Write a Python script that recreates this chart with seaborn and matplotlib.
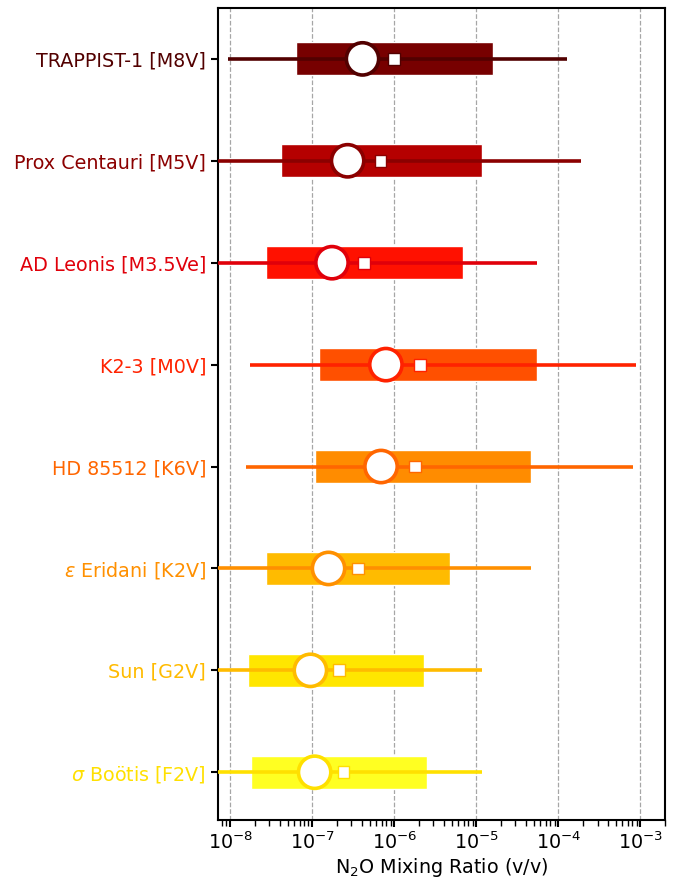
import numpy as np
import pandas as pd
import matplotlib
matplotlib.use("Agg")
import matplotlib.pyplot as plt
import seaborn as sns

# star names (top to bottom)
STARS = ["TRAPPIST-1 [M8V]", "Prox Centauri [M5V]", "AD Leonis [M3.5Ve]",
         "K2-3 [M0V]", "HD 85512 [K6V]", r"$\varepsilon$ Eridani [K2V]",
         "Sun [G2V]", r"$\sigma$ Boötis [F2V]"]

# N2O mixing ratio summary per star
LO95 = [9.5e-9, 4.0e-9, 3.0e-9, 1.74e-8, 1.58e-8, 3.0e-9, 3.0e-9, 3.0e-9]
Q_LO = [6.3e-8, 4.2e-8, 2.75e-8, 1.2e-7, 1.07e-7, 2.7e-8, 1.66e-8, 1.8e-8]
MEDIAN = [4.1e-7, 2.7e-7, 1.74e-7, 7.9e-7, 6.9e-7, 1.58e-7, 9.5e-8, 1.07e-7]
MEAN = [1.0e-6, 6.8e-7, 4.3e-7, 2.05e-6, 1.78e-6, 3.6e-7, 2.14e-7, 2.4e-7]
Q_HI = [1.6e-5, 1.17e-5, 6.8e-6, 5.5e-5, 4.7e-5, 4.8e-6, 2.3e-6, 2.5e-6]
HI95 = [1.26e-4, 1.9e-4, 5.5e-5, 8.9e-4, 8.1e-4, 4.6e-5, 1.17e-5, 1.17e-5]

BAR_COLORS = ["#770000", "#b50000", "#ff1100", "#ff5000",
              "#ff8c00", "#ffbb00", "#ffe600", "#ffff22"]
LINE_COLORS = ["#520000", "#8b0000", "#e0000a", "#ff2200",
               "#ff6600", "#ff9000", "#ffbb00", "#ffe000"]

df = pd.DataFrame({"star": STARS, "lo": LO95, "q1": Q_LO, "med": MEDIAN,
                   "mean": MEAN, "q3": Q_HI, "hi": HI95})
df["y"] = np.arange(len(df))

sns.set_theme(style="ticks")
plt.rcParams["font.family"] = ["DejaVu Sans"]
plt.rcParams["text.color"] = "black"
plt.rcParams["axes.labelcolor"] = "black"
plt.rcParams["xtick.color"] = "black"
plt.rcParams["ytick.color"] = "black"

FS = 13.8

fig, ax = plt.subplots(figsize=(6.78, 8.8), dpi=100)
fig.subplots_adjust(left=0.3215, right=0.981, top=0.991, bottom=0.068)

# interquartile boxes
ax.barh(df["y"], df["q3"] - df["q1"], left=df["q1"], height=0.325,
        color=BAR_COLORS, zorder=2)
# full range lines
ax.hlines(df["y"], df["lo"], df["hi"], colors=LINE_COLORS, linewidth=2.6, zorder=3)

# median circles and mean squares
sns.scatterplot(data=df, x="med", y="y", ax=ax, color="white", marker="o",
                s=540, edgecolor=LINE_COLORS, linewidth=2.6, zorder=4, legend=False)
sns.scatterplot(data=df, x="mean", y="y", ax=ax, color="white", marker="s",
                s=72, edgecolor=LINE_COLORS, linewidth=1.0, zorder=5, legend=False)

ax.set_xscale("log")
ax.set_xlim(7.1e-9, 2.0e-3)
ax.set_ylim(7.47, -0.5)
ax.set_yticks(df["y"])
ax.set_yticklabels(STARS, fontsize=FS)
for lab, c in zip(ax.get_yticklabels(), LINE_COLORS):
    lab.set_color(c)
ax.tick_params(axis="x", labelsize=FS)
ax.tick_params(axis="both", which="major", length=5, width=1.5)
ax.set_xlabel("N$_2$O Mixing Ratio (v/v)", fontsize=FS, labelpad=2)
ax.set_ylabel("")
ax.grid(True, axis="x", which="major", linestyle="--", color="gray", alpha=0.7, linewidth=0.9)
ax.grid(False, axis="y")
for sp in ax.spines.values():
    sp.set_visible(True)
    sp.set_linewidth(1.5)
    sp.set_color("black")

plt.savefig("out.png", dpi=100)
plt.close()
